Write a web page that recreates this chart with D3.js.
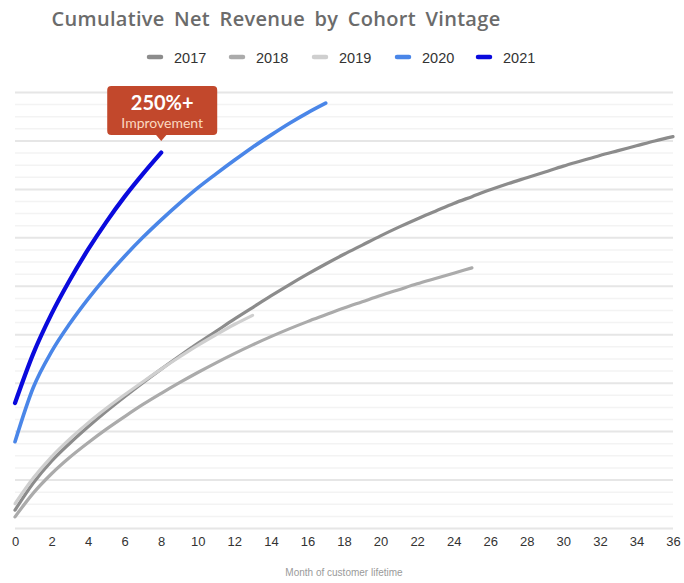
<!DOCTYPE html>
<html>
<head>
<meta charset="utf-8">
<script src="https://cdn.jsdelivr.net/npm/d3@7"></script>
<style>
  body { margin: 0; background: #fff; }
  svg { display: block; }
</style>
</head>
<body>
<div id="vis"></div>
<script>
// cumulative net revenue (index units) by month of customer lifetime
var v2017 = [37, 93, 138, 175, 209, 241, 271, 300, 328, 355, 381, 406, 431, 455, 479, 502, 524, 545,
             565, 584, 603, 621, 638, 654, 670, 684, 698, 711, 723, 735, 747, 758, 769, 779, 789, 799, 808];
var v2018 = [23, 72, 112, 146, 176, 204, 230, 255, 278, 300, 321, 341, 360, 378, 395, 411, 426, 440,
             454, 467, 480, 492, 504, 515, 526, 537];
var v2019 = [50, 103, 147, 184, 217, 247, 275, 302, 328, 353, 377, 399, 420, 439];
var v2020 = [178, 290, 364, 422, 473, 519, 561, 600, 636, 670, 702, 731, 759, 786, 811, 835, 857, 877];
var v2021 = [258, 360, 442, 512, 575, 632, 684, 731, 775];

var years = ["2017", "2018", "2019", "2020", "2021"];
var colors = ["#8c8c8c", "#ababab", "#cfcfcf", "#4a86e8", "#0a0add"];
var widths = [3.2, 3.2, 3.2, 3.6, 4.2];
var xTicks = d3.range(0, 37, 2);

var width = 684, height = 583;
var margin = {top: 92, right: 11, bottom: 55, left: 15};
var vg_width = width - margin.left - margin.right;
var vg_height = height - margin.top - margin.bottom;

var svg = d3.select("#vis").append("svg")
    .attr("width", width)
    .attr("height", height);

var x_scale = d3.scaleLinear().domain([0, 36]).range([0, vg_width]);
var y_scale = d3.scaleLinear().domain([0, 900]).range([vg_height, 0]);

var vis = svg.append("g")
    .attr("transform", "translate(" + margin.left + "," + margin.top + ")");

// minor + major gridlines
var grid = vis.append("g").attr("class", "grid")
    .call(d3.axisLeft(y_scale).tickValues(d3.range(0, 901, 25)).tickSize(-vg_width).tickFormat(""));
grid.select(".domain").remove();
grid.selectAll(".tick line")
    .attr("stroke", function(d){ return d % 100 == 0 ? "#e6e6e6" : "#f3f3f3"; })
    .attr("stroke-width", function(d){ return d % 100 == 0 ? 2 : 1.5; });

// x axis
var xa = vis.append("g")
    .attr("transform", "translate(0," + vg_height + ")")
    .call(d3.axisBottom(x_scale).tickValues(xTicks).tickSize(0).tickPadding(9));
xa.select(".domain").remove();
xa.selectAll("text")
    .style("font-family", "'Liberation Sans', Arial, sans-serif")
    .style("font-size", "13px")
    .attr("fill", "#333");

svg.append("text")
    .attr("x", 344).attr("y", 576)
    .attr("text-anchor", "middle")
    .style("font-family", "'Liberation Sans', Arial, sans-serif")
    .style("font-size", "10px")
    .attr("fill", "#9a9a9a")
    .text("Month of customer lifetime");

// lines
var line = d3.line()
    .x(function(d, i){ return x_scale(i); })
    .y(function(d){ return y_scale(d); })
    .curve(d3.curveMonotoneX);

var series = [v2017, v2018, v2019, v2020, v2021];
vis.append("g").selectAll("path")
    .data(series)
    .enter()
    .append("path")
    .attr("d", line)
    .attr("fill", "none")
    .attr("stroke", function(d, i){ return colors[i]; })
    .attr("stroke-width", function(d, i){ return widths[i]; })
    .attr("stroke-linecap", "round")
    .attr("stroke-linejoin", "round");

// title
svg.append("text")
    .attr("x", 276).attr("y", 26)
    .attr("text-anchor", "middle")
    .style("font-family", "'Open Sans', sans-serif")
    .style("font-weight", 600)
    .style("font-size", "20px")
    .style("word-spacing", "4px")
    .style("letter-spacing", "0.3px")
    .attr("fill", "#6b6b6b")
    .text("Cumulative Net Revenue by Cohort Vintage");

// legend
var legX = [149, 231, 314, 397, 478];
var leg = svg.append("g").selectAll("g")
    .data(years)
    .enter()
    .append("g")
    .attr("transform", function(d, i){ return "translate(" + legX[i] + ",57)"; });
leg.append("line")
    .attr("x1", 0).attr("x2", 12)
    .attr("stroke", function(d, i){ return colors[i]; })
    .attr("stroke-width", 4.5)
    .attr("stroke-linecap", "round");
leg.append("text")
    .attr("x", 25).attr("y", 5.5)
    .style("font-family", "'Liberation Sans', Arial, sans-serif")
    .style("font-size", "14.5px")
    .attr("fill", "#333")
    .text(function(d){ return d; });

// annotation callout above the end of 2021
var endX = margin.left + x_scale(v2021.length - 1);
var ann = svg.append("g");
ann.append("rect")
    .attr("x", endX - 54).attr("y", 86)
    .attr("width", 110).attr("height", 49)
    .attr("rx", 4)
    .attr("fill", "#c2482c");
ann.append("path")
    .attr("d", "M" + (endX - 6) + ",134 L" + endX + ",141 L" + (endX + 6) + ",134 Z")
    .attr("fill", "#c2482c");
ann.append("text")
    .attr("x", endX + 1).attr("y", 110)
    .attr("text-anchor", "middle")
    .style("font-family", "Lato, sans-serif")
    .style("font-weight", 700)
    .style("font-size", "20px")
    .attr("fill", "#fff")
    .text("250%+");
ann.append("text")
    .attr("x", endX + 1).attr("y", 128)
    .attr("text-anchor", "middle")
    .style("font-family", "Lato, sans-serif")
    .style("font-size", "14px")
    .attr("fill", "#fbd9c0")
    .text("Improvement");
</script>
</body>
</html>
